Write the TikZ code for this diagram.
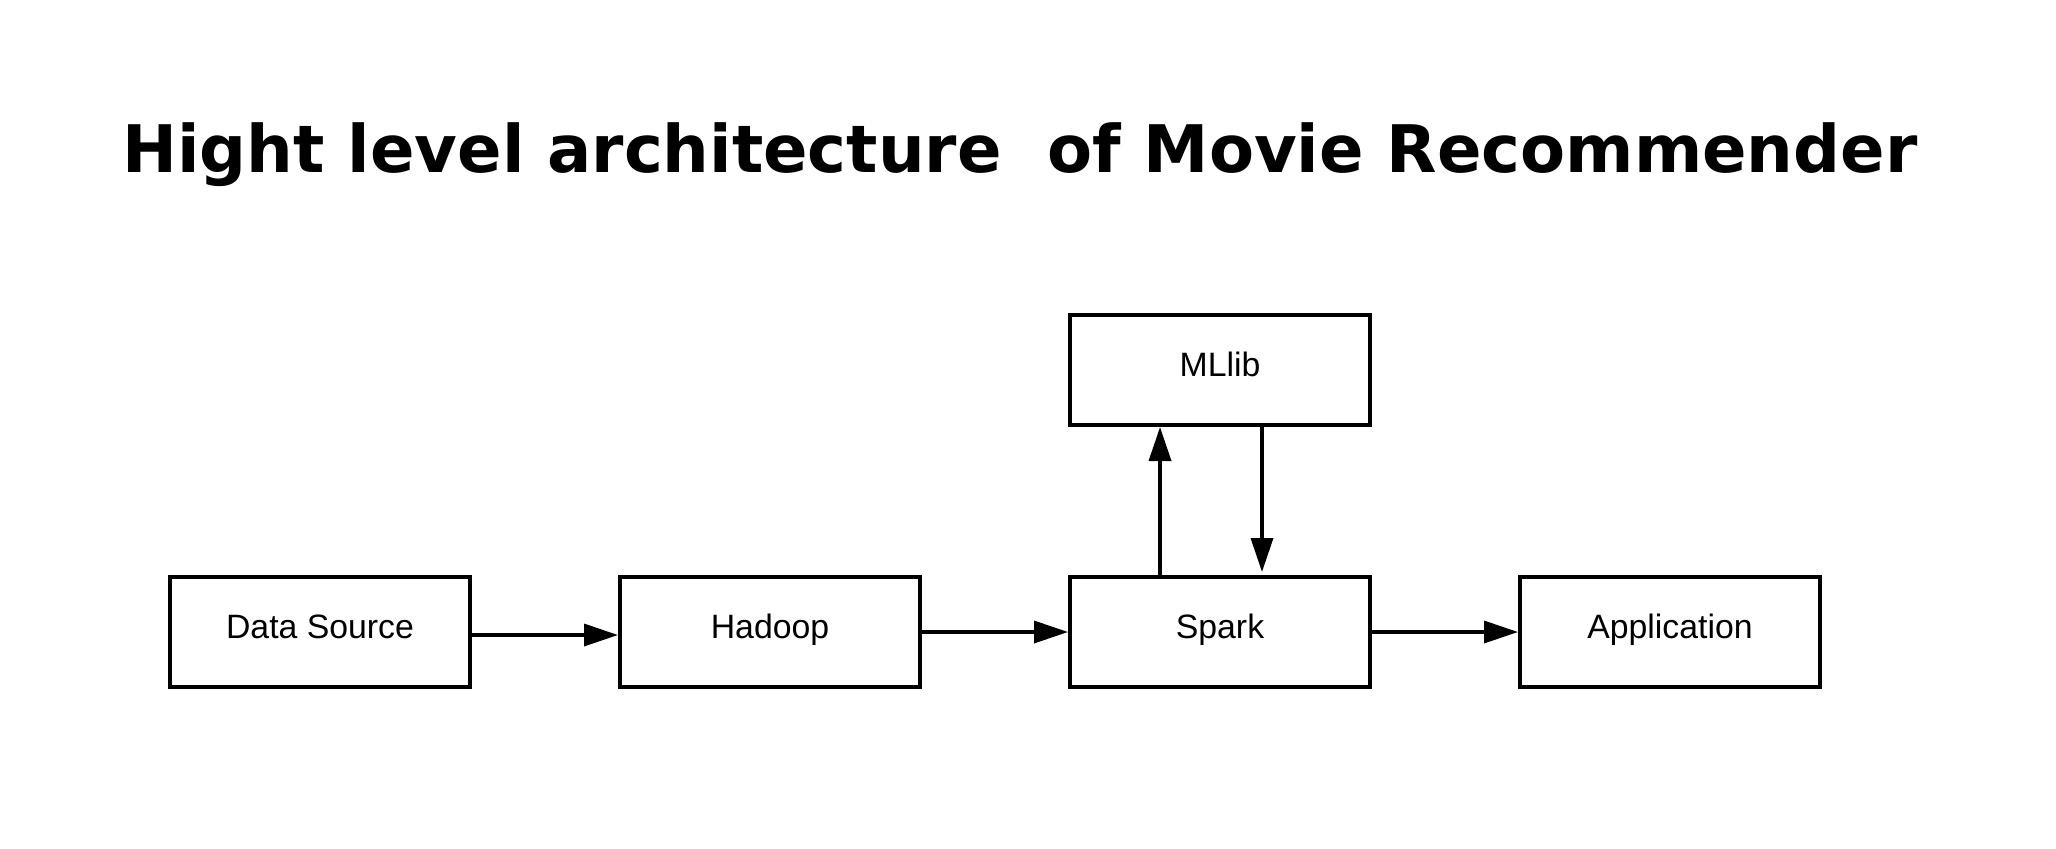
\documentclass[tikz,border=0pt]{standalone}
\usepackage{fontspec}
\setmainfont{Liberation Sans}
\newfontfamily\titlefont{DejaVu Sans}
\usetikzlibrary{arrows.meta}
\begin{document}
\begin{tikzpicture}[x=0.5pt,y=-0.5pt,
  block/.style={draw=black, line width=2pt, minimum width=150pt, minimum height=55pt,
    inner sep=0pt, text height=12pt, text depth=5.4pt, font=\fontsize{16.9}{20}\selectfont},
  flow/.style={line width=1.75pt, -{Triangle[length=17pt,width=11pt]}},
  titlestyle/.style={inner sep=0pt, anchor=base, font=\titlefont\bfseries\fontsize{32.8}{40}\selectfont}]
\path[use as bounding box, fill=white] (0,0) rectangle (2056,848);
\node[titlestyle] (title) at (1020,172) {Hight level architecture\ \ of Movie Recommender};
\node[block] (ds) at (320,632) {Data Source};
\node[block] (hadoop) at (770,632) {Hadoop};
\node[block] (spark) at (1220,632) {Spark};
\node[block] (app) at (1670,632) {Application};
\node[block] (mllib) at (1220,370) {MLlib};
\draw[flow] ([xshift=-1.5pt,yshift=-1.5pt]ds.east) -- ([yshift=-1.5pt]hadoop.west);
\draw[flow] ([xshift=-1.5pt]hadoop.east) -- (spark.west);
\draw[flow] ([xshift=-1.5pt]spark.east) -- (app.west);
\draw[flow] ([xshift=-30pt,yshift=-1.5pt]spark.north) -- ([xshift=-30pt]mllib.south);
\draw[flow] ([xshift=21pt,yshift=1.5pt]mllib.south) -- ([xshift=21pt,yshift=1.5pt]spark.north);
\end{tikzpicture}
\end{document}
